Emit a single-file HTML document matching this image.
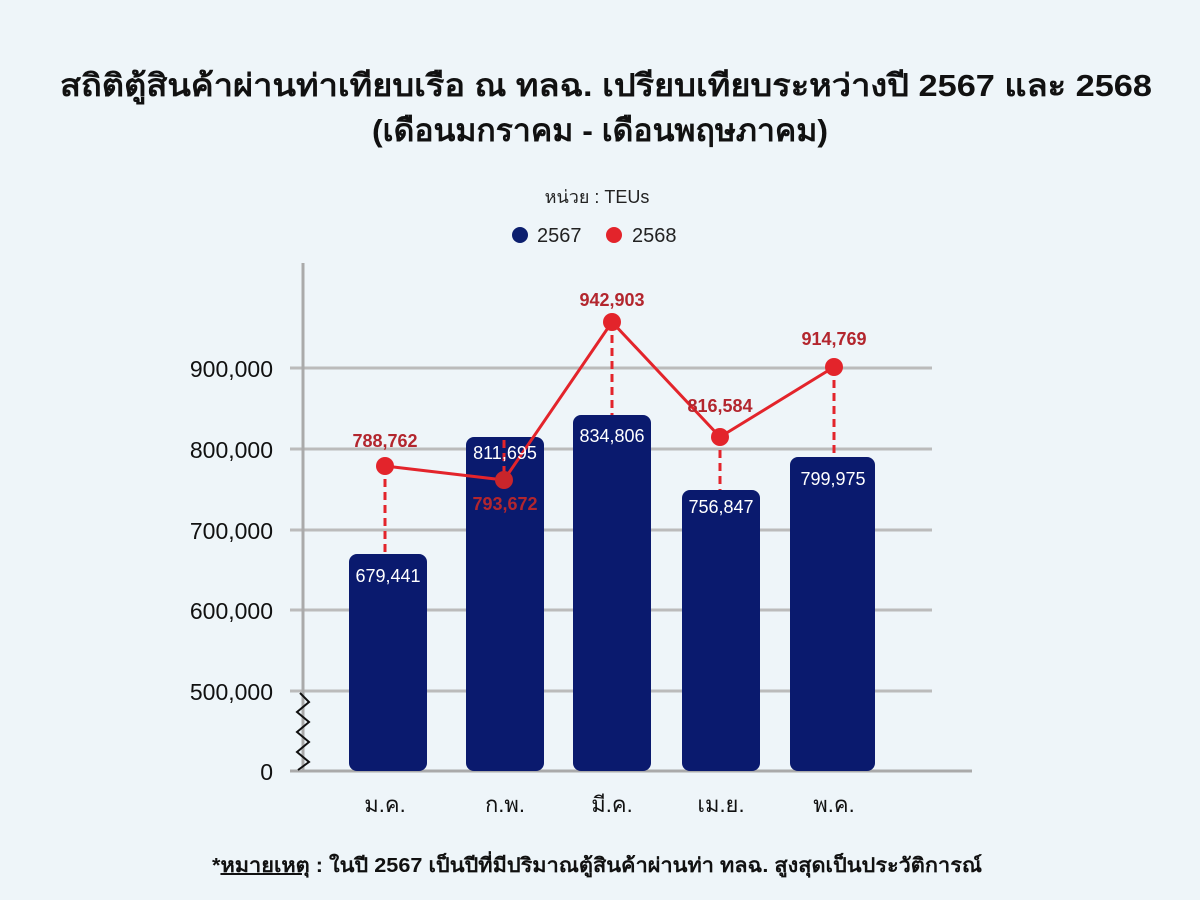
<!DOCTYPE html>
<html><head><meta charset="utf-8"><style>
body{margin:0;background:#eef5f9;}
svg{display:block;font-family:"Liberation Sans","DejaVu Sans",sans-serif;}
</style></head><body>
<svg width="1200" height="900" viewBox="0 0 1200 900">
<rect width="1200" height="900" fill="#eef5f9"/>
<text x="60" y="96" textLength="1092" lengthAdjust="spacingAndGlyphs" font-size="31" font-weight="bold" fill="#111">สถิติตู้สินค้าผ่านท่าเทียบเรือ ณ ทลฉ. เปรียบเทียบระหว่างปี 2567 และ 2568</text>
<text x="372" y="141" textLength="456" lengthAdjust="spacingAndGlyphs" font-size="31" font-weight="bold" fill="#111">(เดือนมกราคม - เดือนพฤษภาคม)</text>
<text x="597" y="203" text-anchor="middle" font-size="18" fill="#222">หน่วย : TEUs</text>
<circle cx="520" cy="235" r="8" fill="#0c1f6e"/><text x="537" y="242" font-size="20" fill="#222">2567</text>
<circle cx="614" cy="235" r="8" fill="#e3242b"/><text x="632" y="242" font-size="20" fill="#222">2568</text>
<g stroke="#bbbbbb" stroke-width="3">
<line x1="290" y1="368" x2="932" y2="368"/><line x1="290" y1="449" x2="932" y2="449"/>
<line x1="290" y1="530" x2="932" y2="530"/><line x1="290" y1="610" x2="932" y2="610"/>
<line x1="290" y1="691" x2="932" y2="691"/>
</g>
<line x1="303" y1="263" x2="303" y2="771" stroke="#aaa" stroke-width="3"/>
<line x1="290" y1="771" x2="972" y2="771" stroke="#aaa" stroke-width="3"/>
<g font-size="23" fill="#111" text-anchor="end">
<text x="273" y="377">900,000</text><text x="273" y="458">800,000</text><text x="273" y="539">700,000</text>
<text x="273" y="619">600,000</text><text x="273" y="700">500,000</text><text x="273" y="780">0</text>
</g>
<polyline points="300,693 309,702 297,712 309,722 297,732 309,742 297,752 309,762 298,770" fill="none" stroke="#111" stroke-width="2"/>
<g fill="#0a1a6e">
<rect x="349" y="554" width="78" height="217" rx="8"/>
<rect x="466" y="437" width="78" height="334" rx="8"/>
<rect x="573" y="415" width="78" height="356" rx="8"/>
<rect x="682" y="490" width="78" height="281" rx="8"/>
<rect x="790" y="457" width="85" height="314" rx="8"/>
</g>
<g stroke="#e3242b" stroke-width="3" stroke-dasharray="8,5">
<line x1="385" y1="466" x2="385" y2="554"/><line x1="612" y1="322" x2="612" y2="415"/>
<line x1="720" y1="437" x2="720" y2="490"/><line x1="834" y1="367" x2="834" y2="457"/>
<line x1="504" y1="440" x2="504" y2="480"/>
</g>
<polyline points="385,466 504,480 612,322 720,437 834,367" fill="none" stroke="#e3242b" stroke-width="3"/>
<g fill="#e3242b"><circle cx="385" cy="466" r="9"/><circle cx="504" cy="480" r="9" fill="#c9252b"/><circle cx="612" cy="322" r="9"/><circle cx="720" cy="437" r="9"/><circle cx="834" cy="367" r="9"/></g>
<g font-size="18" fill="#fff" text-anchor="middle">
<text x="388" y="582">679,441</text><text x="505" y="459">811,695</text><text x="612" y="442">834,806</text>
<text x="721" y="513">756,847</text><text x="833" y="485">799,975</text>
</g>
<g font-size="18" font-weight="bold" fill="#b3262e" text-anchor="middle">
<text x="385" y="447">788,762</text><text x="505" y="510">793,672</text><text x="612" y="306">942,903</text>
<text x="720" y="412">816,584</text><text x="834" y="345">914,769</text>
</g>
<g font-size="22" fill="#111" text-anchor="middle">
<text x="385" y="812">ม.ค.</text><text x="505" y="812">ก.พ.</text><text x="612" y="812">มี.ค.</text>
<text x="721" y="812">เม.ย.</text><text x="834" y="812">พ.ค.</text>
</g>
<text x="212" y="872" textLength="770" lengthAdjust="spacingAndGlyphs" font-size="20" font-weight="bold" fill="#111">*<tspan text-decoration="underline">หมายเหตุ</tspan> :  ในปี 2567 เป็นปีที่มีปริมาณตู้สินค้าผ่านท่า ทลฉ. สูงสุดเป็นประวัติการณ์</text>
</svg>
</body></html>
